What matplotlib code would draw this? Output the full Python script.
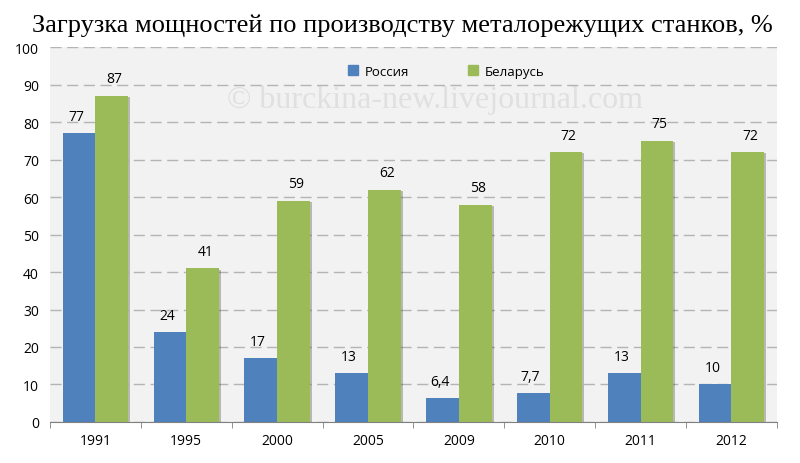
import numpy as np
import matplotlib.pyplot as plt
import matplotlib.patheffects as pe

years = ['1991', '1995', '2000', '2005', '2009', '2010', '2011', '2012']
russia = [77, 24, 17, 13, 6.4, 7.7, 13, 10]
belarus = [87, 41, 59, 62, 58, 72, 75, 72]
russia_labels = ['77', '24', '17', '13', '6,4', '7,7', '13', '10']
belarus_labels = ['87', '41', '59', '62', '58', '72', '75', '72']

color_ru = '#4f81bd'
color_by = '#9bbb59'

fig = plt.figure(figsize=(8, 4.64), dpi=100)
ax = fig.add_axes([0.0625, 0.0884, 0.9085, 0.808])
ax.set_facecolor('#f2f2f2')

x = np.arange(len(years))
w = 0.36
shadow = [pe.SimplePatchShadow(offset=(1.5, -1), alpha=0.3), pe.Normal()]
b1 = ax.bar(x - w / 2, russia, width=w, color=color_ru, zorder=3)
b2 = ax.bar(x + w / 2, belarus, width=w, color=color_by, zorder=3)
for b in list(b1) + list(b2):
    b.set_path_effects(shadow)

for xi, v, t in zip(x, russia, russia_labels):
    ax.text(xi - w / 2 - 0.03, v + 2.5, t, ha='center', va='bottom', fontsize=10,
            family='Open Sans', zorder=4)
for xi, v, t in zip(x, belarus, belarus_labels):
    ax.text(xi + w / 2 + 0.03, v + 2.5, t, ha='center', va='bottom', fontsize=10,
            family='Open Sans', zorder=4)

ax.set_xlim(-0.5, len(years) - 0.5)
ax.set_ylim(0, 100)
ax.set_yticks(range(0, 101, 10))
ax.set_xticks(x)
ax.set_xticklabels(years)
ax.set_xticks(np.arange(-0.5, len(years)), minor=True)
ax.tick_params(axis='x', which='major', length=0, pad=8, labelsize=10)
ax.tick_params(axis='x', which='minor', length=4, color='#808080')
ax.tick_params(axis='y', length=0, labelsize=10, pad=8)
for lab in ax.get_xticklabels() + ax.get_yticklabels():
    lab.set_family('Open Sans')

ax.grid(axis='y', color='#b4b4b4', linestyle=(0, (8, 4)), linewidth=1, zorder=0)
for s in ['top', 'right', 'left']:
    ax.spines[s].set_visible(False)
ax.spines['bottom'].set_color('#808080')
ax.spines['bottom'].set_zorder(5)

# legend with plain square handles
h1 = plt.Rectangle((0, 0), 1, 1, color=color_ru)
h2 = plt.Rectangle((0, 0), 1, 1, color=color_by)
ax.legend([h1, h2], ['Россия', 'Беларусь'], loc='upper center', bbox_to_anchor=(0.545, 0.985),
          ncol=2, frameon=False, prop={'family': 'Open Sans', 'size': 9.5},
          handlelength=0.75, handleheight=0.75, handletextpad=0.5, columnspacing=4.5)

ax.text(0.53, 0.86, '© burckina-new.livejournal.com', transform=ax.transAxes,
        ha='center', va='center', fontsize=23, color='#e0e0e0', family='Liberation Serif',
        zorder=1)

fig.text(0.503, 0.945, 'Загрузка мощностей по производству металорежущих станков, %',
         ha='center', va='center', fontsize=19, family='Liberation Serif')

fig.savefig('out.png', dpi=100)
